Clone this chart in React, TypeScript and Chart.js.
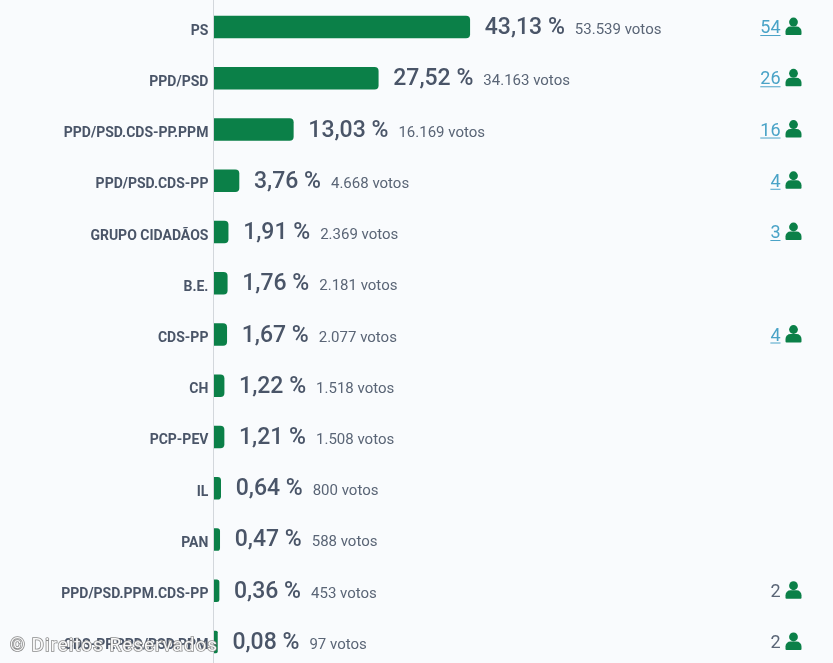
import { useEffect, useRef } from "react";
import { Chart, registerables } from "chart.js";
import type { Plugin } from "chart.js";

Chart.register(...registerables);

const parties = ["PS", "PPD/PSD", "PPD/PSD.CDS-PP.PPM", "PPD/PSD.CDS-PP", "GRUPO CIDADÃOS", "B.E.", "CDS-PP", "CH", "PCP-PEV", "IL", "PAN", "PPD/PSD.PPM.CDS-PP", "CDS-PP.PPD/PSD.PPM"];
const percent = [43.13, 27.52, 13.03, 3.76, 1.91, 1.76, 1.67, 1.22, 1.21, 0.64, 0.47, 0.36, 0.08];
const votes = ["53.539", "34.163", "16.169", "4.668", "2.369", "2.181", "2.077", "1.518", "1.508", "800", "588", "453", "97"];
const seats = [54, 26, 16, 4, 3, null, 4, null, null, null, null, 2, 2];
const seatLinks = [true, true, true, true, true, false, true, false, false, false, false, false, false];

const GREEN = "#0b8048";
const SLATE = "#4a5568";
const FONT = "Roboto, sans-serif";

// draws a little person icon, the size of the seat column
function drawPerson(ctx: CanvasRenderingContext2D, x: number, y: number) {
  ctx.fillStyle = GREEN;
  ctx.beginPath();
  ctx.arc(x, y - 4, 4.4, 0, Math.PI * 2);
  ctx.fill();
  ctx.beginPath();
  ctx.roundRect(x - 8, y + 0.5, 16, 8.5, [5, 5, 1, 1]);
  ctx.fill();
}

const rowText: Plugin<"bar"> = {
  id: "rowText",
  afterDatasetsDraw(chart) {
    const { ctx, scales } = chart;
    const x = scales.x;
    const y = scales.y;
    ctx.save();

    // axis line runs the whole canvas height
    ctx.fillStyle = "#d3d7dc";
    ctx.fillRect(x.left - 1, 0, 1, chart.height);

    ctx.textBaseline = "alphabetic";
    percent.forEach((v, i) => {
      const cy = y.getPixelForValue(i);
      const end = x.getPixelForValue(v);

      const pct = v.toFixed(2).replace(".", ",") + " %";
      ctx.textAlign = "left";
      ctx.fillStyle = SLATE;
      ctx.font = `500 23px ${FONT}`;
      const px = end + 15;
      ctx.fillText(pct, px, cy + 7);
      const w = ctx.measureText(pct).width;

      ctx.fillStyle = "#5a6576";
      ctx.font = `400 15px ${FONT}`;
      ctx.fillText(`${votes[i]} votos`, px + w + 10, cy + 7);

      const s = seats[i];
      if (s !== null) {
        const label = String(s);
        ctx.textAlign = "right";
        ctx.font = `400 18px ${FONT}`;
        ctx.fillStyle = seatLinks[i] ? "#4aa3c7" : "#5a6576";
        ctx.fillText(label, 780.5, cy + 6);
        if (seatLinks[i]) {
          const lw = ctx.measureText(label).width;
          ctx.fillRect(780.5 - lw, cy + 8, lw, 1);
        }
        drawPerson(ctx, 793.5, cy - 1);
      }
    });

    // watermark sits over the last row, white with a grey edge
    ctx.textAlign = "left";
    ctx.font = `400 19px ${FONT}`;
    ctx.letterSpacing = "0.95px";
    ctx.strokeStyle = "rgba(120,120,120,0.85)";
    ctx.lineWidth = 1.6;
    ctx.strokeText("© Direitos Reservados", 10, 651);
    ctx.fillStyle = "rgba(255,255,255,0.95)";
    ctx.fillText("© Direitos Reservados", 10, 651);
    ctx.restore();
  },
};

export default function App() {
  const canvasRef = useRef<HTMLCanvasElement | null>(null);

  useEffect(() => {
    document.body.style.margin = "0";
    const chart = new Chart(canvasRef.current!, {
      type: "bar",
      data: {
        labels: parties,
        datasets: [
          {
            data: percent,
            base: -0.5,
            backgroundColor: GREEN,
            borderSkipped: false,
            borderRadius: { topLeft: 0, bottomLeft: 0, topRight: 4, bottomRight: 4 },
            barThickness: 22,
          },
        ],
      },
      options: {
        indexAxis: "y",
        animation: false,
        responsive: false,
        layout: { padding: { top: 1.4, bottom: 1.4, left: 0, right: 0 } },
        plugins: { legend: { display: false }, tooltip: { enabled: false } },
        scales: {
          x: { display: false, min: -0.5, max: 105.1 },
          y: {
            afterFit: (scale) => {
              scale.width = 214;
              // no room kept for the first and last label
              scale.paddingTop = 0;
              scale.paddingBottom = 0;
            },
            grid: { display: false, drawTicks: false },
            border: { display: false },
            ticks: {
              autoSkip: false,
              padding: 5.6,
              labelOffset: 4,
              color: SLATE,
              font: { family: FONT, size: 14, weight: "bold" },
            },
          },
        },
      },
      plugins: [rowText],
    });
    return () => chart.destroy();
  }, []);

  return (
    <div style={{ width: 833, height: 663, overflow: "hidden", background: "#f9fbfd" }}>
      <canvas ref={canvasRef} width={833} height={669} style={{ display: "block" }} />
    </div>
  );
}
